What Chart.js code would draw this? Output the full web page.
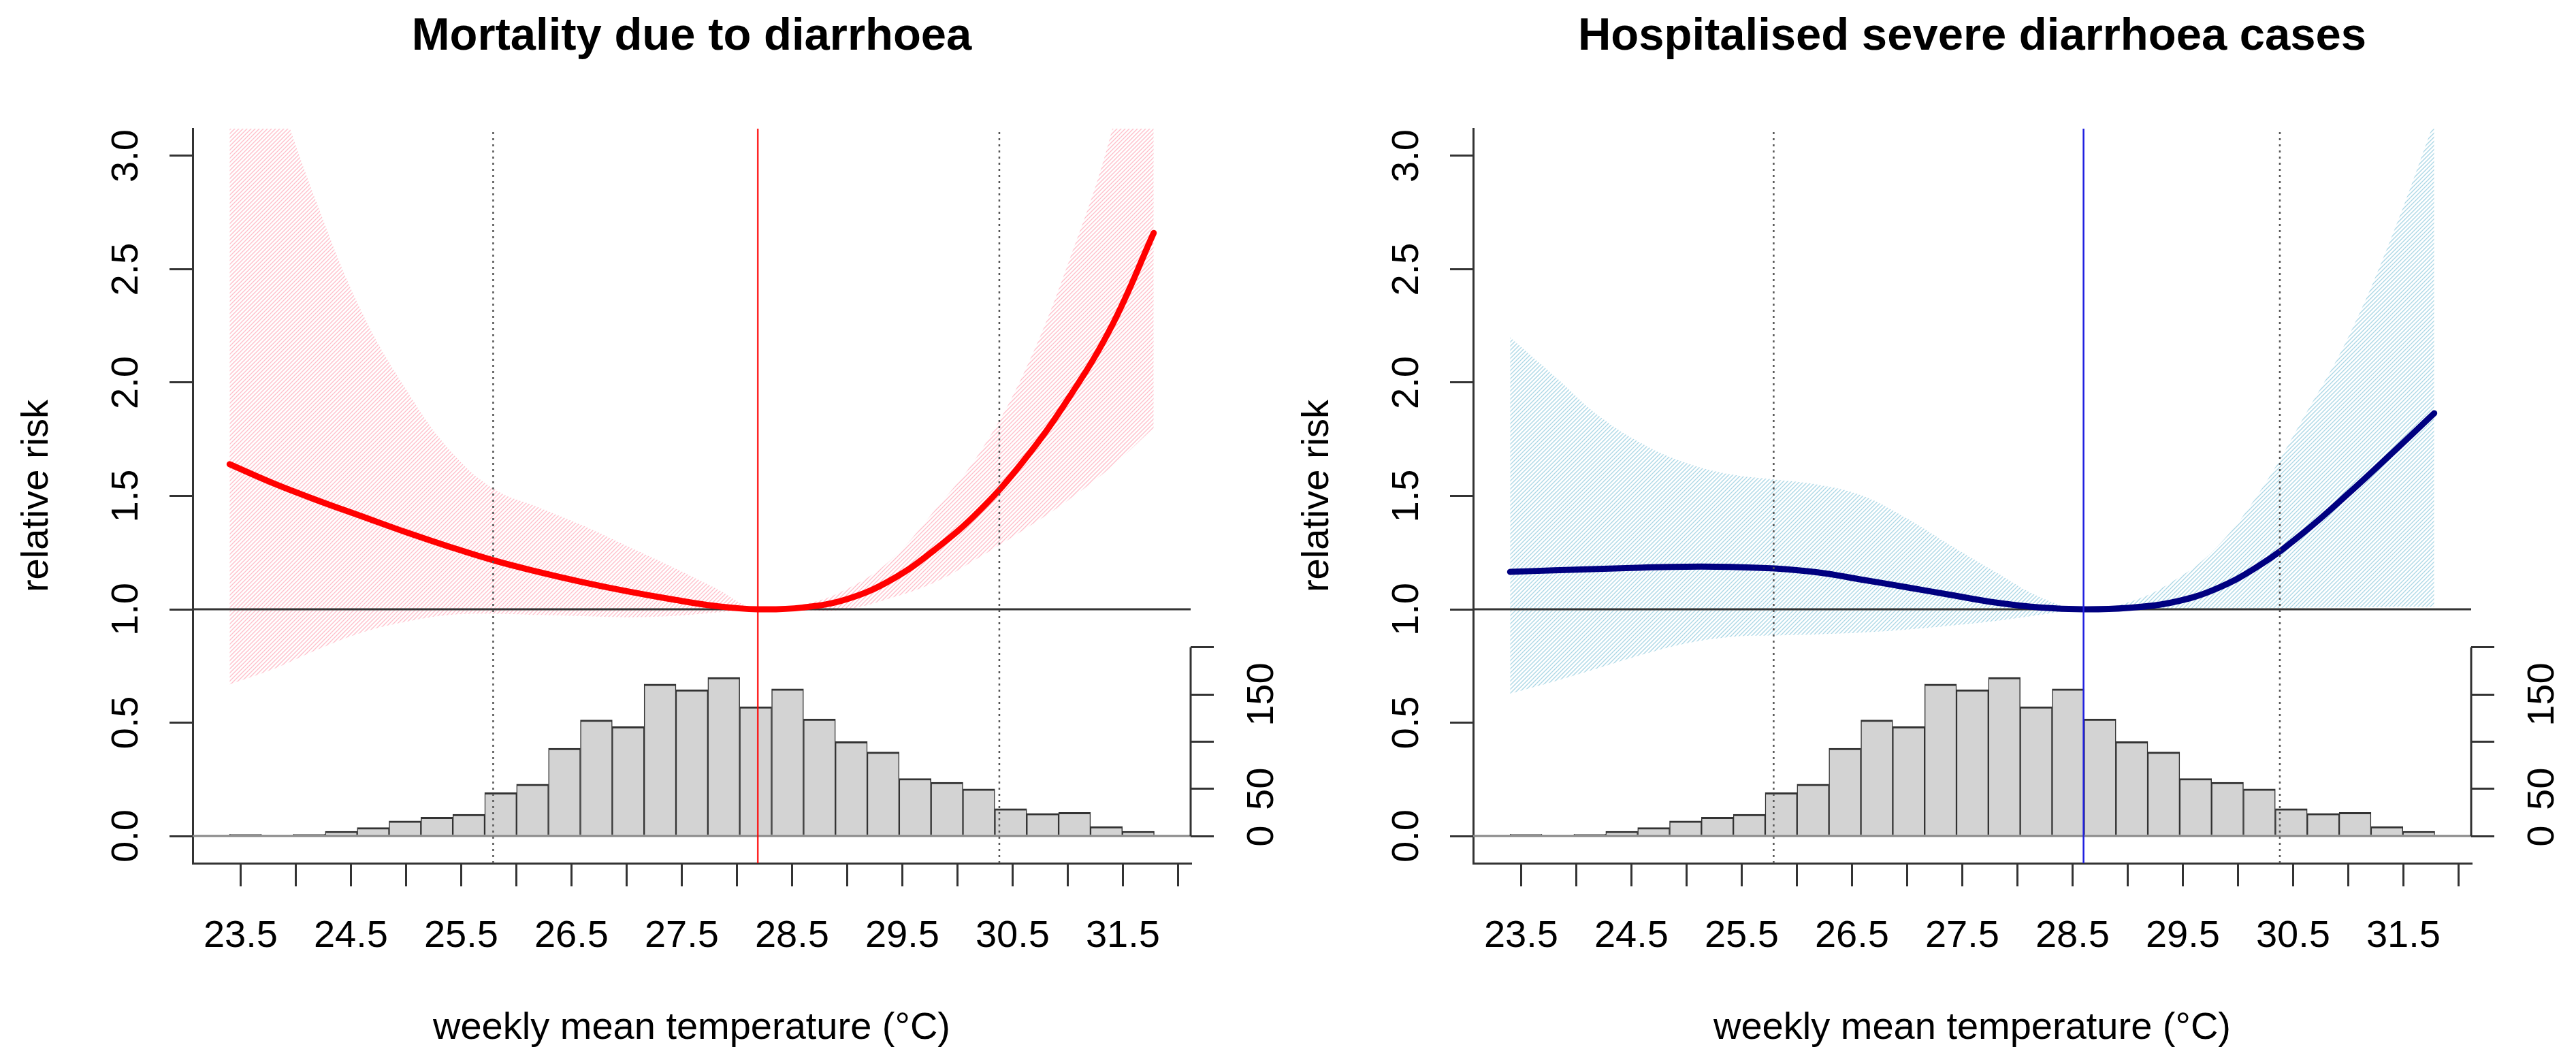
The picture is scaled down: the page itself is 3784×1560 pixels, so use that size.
<!DOCTYPE html>
<html>
<head>
<meta charset="utf-8">
<script src="https://cdn.jsdelivr.net/npm/chart.js@4.4.1/dist/chart.umd.min.js"></script>
<style>
  html, body { margin: 0; padding: 0; background: #fff; }
  #wrap { position: relative; width: 3784px; height: 1560px; }
  canvas { position: absolute; top: 0; }
</style>
</head>
<body>
<div id="wrap">
  <canvas id="mortChart" width="1881" height="1560" style="left:0;width:1881px;height:1560px"></canvas>
  <canvas id="hospChart" width="1903" height="1560" style="left:1881px;width:1903px;height:1560px"></canvas>
</div>
<script>
// axis ranges and ticks (same for both panels)
const xRange = [23.065, 32.115];
const xTickValues = [23.5, 24, 24.5, 25, 25.5, 26, 26.5, 27, 27.5, 28, 28.5, 29, 29.5, 30, 30.5, 31, 31.5, 32];
const xTickLabels = ['23.5', '', '24.5', '', '25.5', '', '26.5', '', '27.5', '', '28.5', '', '29.5', '', '30.5', '', '31.5', ''];
const yRange = [-0.12, 3.12];
const yTickValues = [0, 0.5, 1, 1.5, 2, 2.5, 3];
const countRange = [-28.8, 749.4];
const countTickValues = [0, 50, 100, 150, 200];
const countTickLabels = ['0', '50', '', '150', ''];

// histogram of weekly mean temperature
const histBreaks = [23.400, 23.689, 23.978, 24.267, 24.557, 24.846, 25.135, 25.424, 25.713, 26.002,
  26.291, 26.581, 26.870, 27.159, 27.448, 27.737, 28.026, 28.315, 28.605, 28.894,
  29.183, 29.472, 29.761, 30.050, 30.339, 30.629, 30.918, 31.207, 31.496, 31.785];
const histCounts = [2, 0, 2, 5, 9, 16, 20, 23, 46, 55, 93, 123, 116, 161, 155, 168, 137, 156, 124, 100,
  89, 61, 57, 50, 29, 24, 25, 10, 5];

// temperature percentiles (dotted lines)
const refTemps = [25.79, 30.38];

// mortality due to diarrhoea
const mortTemp = [23.40, 23.80, 24.20, 24.60, 25.00, 25.40, 25.80, 26.20, 26.60, 27.00, 27.40, 27.80, 28.19,
  28.60, 29.00, 29.40, 29.80, 30.20, 30.60, 31.00, 31.40, 31.78];
const mortRR = [1.64, 1.555, 1.48, 1.41, 1.34, 1.275, 1.215, 1.165, 1.12, 1.08, 1.045, 1.015, 1.0,
  1.008, 1.045, 1.13, 1.265, 1.435, 1.655, 1.925, 2.25, 2.66];
const mortHigh = [4.0, 3.34, 2.78, 2.31, 1.97, 1.70, 1.53, 1.45, 1.37, 1.28, 1.19, 1.095, 1.0,
  1.02, 1.09, 1.22, 1.44, 1.69, 2.04, 2.52, 3.11, 3.95];
const mortLow = [0.668, 0.737, 0.823, 0.897, 0.945, 0.975, 0.98, 0.975, 0.97, 0.965, 0.97, 0.985, 1.0,
  0.995, 1.0, 1.05, 1.12, 1.23, 1.35, 1.48, 1.63, 1.80];
const mortMMT = 28.19;

// hospitalised severe diarrhoea cases
const hospTemp = [23.40, 23.80, 24.20, 24.60, 25.00, 25.40, 25.80, 26.20, 26.60, 27.00, 27.40, 27.80, 28.20,
  28.60, 29.00, 29.40, 29.80, 30.20, 30.60, 31.00, 31.40, 31.78];
const hospRR = [1.165, 1.172, 1.178, 1.184, 1.188, 1.187, 1.18, 1.162, 1.13, 1.097, 1.063, 1.03, 1.008,
  1.0, 1.006, 1.03, 1.09, 1.195, 1.34, 1.51, 1.69, 1.865];
const hospHigh = [2.20, 2.03, 1.855, 1.73, 1.645, 1.595, 1.572, 1.549, 1.50, 1.40, 1.28, 1.165, 1.055,
  1.0, 1.03, 1.12, 1.27, 1.52, 1.85, 2.2, 2.65, 3.15];
const hospLow = [0.628, 0.682, 0.74, 0.80, 0.85, 0.878, 0.885, 0.89, 0.898, 0.911, 0.928, 0.948, 0.975,
  1.0, 1.0, 1.0, 1.003, 1.005, 1.007, 1.008, 1.01, 1.01];
const hospMMT = 28.6;

Chart.defaults.font.family = "'Liberation Sans', Arial, sans-serif";
Chart.defaults.color = '#000';

const AXIS = '#333';
const FONT = 56;

// diagonal hatching like R polygon(density=...)
function makeHatch(color) {
  const tile = document.createElement('canvas');
  tile.width = 6; tile.height = 6;
  const g = tile.getContext('2d');
  g.strokeStyle = color;
  g.lineWidth = 1.4;
  g.beginPath();
  g.moveTo(0, 6); g.lineTo(6, 0);
  g.moveTo(-1, 1); g.lineTo(1, -1);
  g.moveTo(5, 7); g.lineTo(7, 5);
  g.stroke();
  return g.createPattern(tile, 'repeat');
}

// right count axis only spans the tick range, like R axis()
const countSpine = {
  id: 'countSpine',
  afterDraw(chart) {
    const s = chart.scales.y2;
    const ctx = chart.ctx;
    const x = chart.chartArea.right;
    ctx.save();
    ctx.strokeStyle = AXIS;
    ctx.lineWidth = 3;
    ctx.beginPath();
    ctx.moveTo(x, s.getPixelForValue(countTickValues[0]));
    ctx.lineTo(x, s.getPixelForValue(countTickValues[countTickValues.length - 1]));
    ctx.stroke();
    ctx.restore();
  }
};

function pts(xs, ys) {
  return xs.map((t, i) => ({ x: t, y: ys[i] }));
}

function vline(t, color, width, dash) {
  return {
    type: 'line', data: [{ x: t, y: yRange[0] }, { x: t, y: yRange[1] }],
    borderColor: color, borderWidth: width, borderDash: dash || [], pointRadius: 0, order: 0
  };
}

function tickGrid() {
  return { drawOnChartArea: false, drawTicks: true, tickLength: 34, tickWidth: 3, tickColor: AXIS, color: AXIS, lineWidth: 3 };
}

function buildPanel(id, title, temp, rr, low, high, mmt, curveColor, mmtColor, bandColor, canvasWidth) {
  const histData = histCounts.map((c, i) => ({ x: (histBreaks[i] + histBreaks[i + 1]) / 2, y: c }));
  return new Chart(document.getElementById(id), {
    type: 'bar',
    data: {
      datasets: [
        vline(mmt, mmtColor, 2.5),
        vline(refTemps[0], '#555', 2.5, [3, 6]),
        vline(refTemps[1], '#555', 2.5, [3, 6]),
        { type: 'line', data: pts(temp, rr), borderColor: curveColor, borderWidth: 9, pointRadius: 0,
          tension: 0.4, borderCapStyle: 'round', order: 1 },
        { type: 'line', data: [{ x: xRange[0], y: 1 }, { x: xRange[1], y: 1 }], borderColor: AXIS,
          borderWidth: 3, pointRadius: 0, order: 2 },
        { type: 'line', data: pts(temp, high), borderColor: 'rgba(0,0,0,0)', borderWidth: 0, pointRadius: 0,
          tension: 0.4, fill: false, order: 3 },
        { type: 'line', data: pts(temp, low), borderColor: 'rgba(0,0,0,0)', borderWidth: 0, pointRadius: 0,
          tension: 0.4, fill: '-1', backgroundColor: makeHatch(bandColor), order: 4 },
        { type: 'line', data: [{ x: xRange[0], y: 0 }, { x: xRange[1], y: 0 }], borderColor: '#888',
          borderWidth: 3, pointRadius: 0, order: 5 },
        { type: 'bar', data: histData, yAxisID: 'y2', backgroundColor: '#D3D3D3', borderColor: AXIS,
          borderWidth: { top: 3, left: 1.5, right: 1.5, bottom: 0 }, borderSkipped: false,
          barPercentage: 1, categoryPercentage: 1, order: 6 }
      ]
    },
    options: {
      responsive: false,
      devicePixelRatio: 1,
      animation: false,
      layout: { padding: 0 },
      plugins: {
        legend: { display: false },
        tooltip: { enabled: false },
        title: {
          display: true, text: title, fullSize: false, color: '#000',
          font: { size: 67, weight: 'bold' },
          padding: { top: 14, bottom: 189 - 14 - 67 * 1.2 }
        }
      },
      scales: {
        x: {
          type: 'linear', position: 'bottom', min: xRange[0], max: xRange[1], offset: false,
          afterBuildTicks: s => { s.ticks = xTickValues.map(v => ({ value: v })); },
          afterFit: s => { s.height = 292; },
          ticks: {
            autoSkip: false, maxRotation: 0, minRotation: 0, padding: 40, font: { size: FONT }, color: '#000',
            callback: (v, i) => xTickLabels[i]
          },
          grid: Object.assign(tickGrid(), { offset: false }),
          border: { display: true, color: AXIS, width: 3 },
          title: { display: true, text: 'weekly mean temperature (°C)', font: { size: FONT }, color: '#000',
            padding: { top: 0, bottom: 16 } }
        },
        y: {
          type: 'linear', position: 'left', min: yRange[0], max: yRange[1],
          afterBuildTicks: s => { s.ticks = yTickValues.map(v => ({ value: v })); },
          afterFit: s => { s.width = 283; },
          ticks: {
            autoSkip: false, minRotation: 90, maxRotation: 90, crossAlign: 'center', padding: 24,
            font: { size: FONT }, color: '#000', callback: v => v.toFixed(1)
          },
          grid: tickGrid(),
          border: { display: true, color: AXIS, width: 3 },
          title: { display: true, text: 'relative risk', font: { size: FONT }, color: '#000',
            padding: { top: 21, bottom: 0 } }
        },
        y2: {
          type: 'linear', position: 'right', min: countRange[0], max: countRange[1],
          afterBuildTicks: s => { s.ticks = countTickValues.map(v => ({ value: v })); },
          afterFit: s => { s.width = canvasWidth - 1749; },
          ticks: {
            autoSkip: false, minRotation: 90, maxRotation: 90, crossAlign: 'center', padding: 25,
            font: { size: FONT }, color: '#000', callback: (v, i) => countTickLabels[i]
          },
          grid: tickGrid(),
          border: { display: false }
        }
      }
    },
    plugins: [countSpine]
  });
}

buildPanel('mortChart', 'Mortality due to diarrhoea', mortTemp, mortRR, mortLow, mortHigh, mortMMT,
  '#FF0000', 'rgba(255,0,0,0.85)', '#FFC0CB', 1881);
buildPanel('hospChart', 'Hospitalised severe diarrhoea cases', hospTemp, hospRR, hospLow, hospHigh, hospMMT,
  '#000080', '#2020E0', '#ADD8E6', 1903);
</script>
</body>
</html>
